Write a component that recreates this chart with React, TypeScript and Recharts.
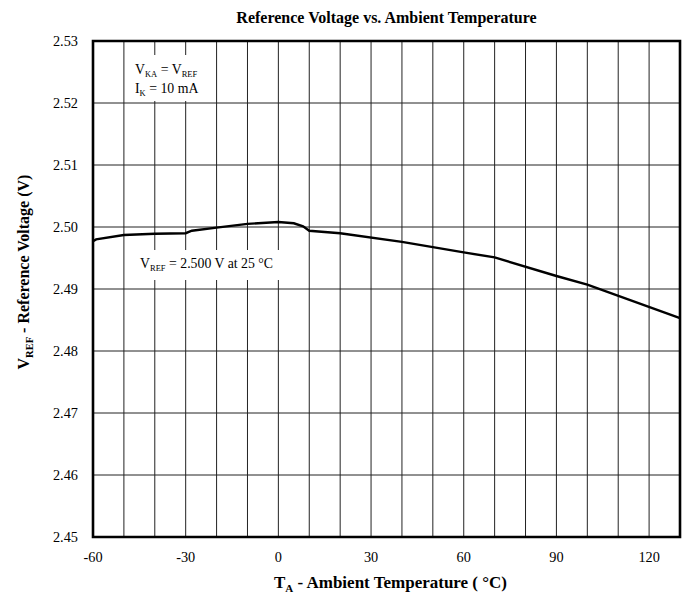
import React from "react";
import {
  CartesianGrid,
  Line,
  LineChart,
  ReferenceArea,
  XAxis,
  YAxis,
} from "recharts";

// values
const temps = [-60, -59, -50, -40, -30, -28, -20, -10, 0, 5, 8, 10, 20, 40, 60, 70, 90, 100, 130];
const vref = [
  2.4977, 2.498, 2.4987, 2.4989, 2.499, 2.4994, 2.4999, 2.5005, 2.5008, 2.5006,
  2.5001, 2.4994, 2.499, 2.4976, 2.4959, 2.4951, 2.4921, 2.4907, 2.4853,
];
const xTicks = [-60, -50, -40, -30, -20, -10, 0, 10, 20, 30, 40, 50, 60, 70, 80, 90, 100, 110, 120, 130];
const yTicks = [2.45, 2.46, 2.47, 2.48, 2.49, 2.5, 2.51, 2.52, 2.53];

const data = temps.map((t, i) => ({ t, v: vref[i] }));

const serif = "'Liberation Serif', 'Times New Roman', serif";
const tickStyle = { fontSize: 14.3, fill: "#000", fontFamily: serif };

const Sub: React.FC<{ children: React.ReactNode; size?: number; drop?: number }> = ({
  children,
  size = 8.5,
  drop = 3,
}) => (
  <span style={{ fontSize: size, position: "relative", top: drop }}>{children}</span>
);

export default function App() {
  return (
    <div
      style={{
        position: "absolute",
        left: 0,
        top: 0,
        width: 691,
        height: 605,
        background: "#fff",
        fontFamily: serif,
        color: "#000",
      }}
    >
      <LineChart
        width={691}
        height={605}
        data={data}
        margin={{ top: 41, right: 11, bottom: 0, left: 0 }}
      >
        <CartesianGrid stroke="#222" strokeWidth={1} />
        <XAxis
          dataKey="t"
          type="number"
          domain={[-60, 130]}
          ticks={xTicks}
          tickFormatter={(v: number) => (Math.abs(v) % 30 === 0 ? String(v) : "")}
          tick={tickStyle}
          tickLine={false}
          axisLine={false}
          tickSize={0}
          tickMargin={15}
          height={68}
          interval={0}
        />
        <YAxis
          type="number"
          domain={[2.45, 2.53]}
          ticks={yTicks}
          tickFormatter={(v: number) => v.toFixed(2)}
          tick={tickStyle}
          tickLine={false}
          axisLine={false}
          tickSize={0}
          tickMargin={15}
          width={93}
          interval={0}
        />
        <Line
          type="linear"
          dataKey="v"
          stroke="#000"
          strokeWidth={2.4}
          dot={false}
          isAnimationActive={false}
        />
        <ReferenceArea
          x1={-60}
          x2={130}
          y1={2.45}
          y2={2.53}
          fill="none"
          fillOpacity={0}
          stroke="#000"
          strokeWidth={2.6}
          ifOverflow="visible"
        />
      </LineChart>

      {/* title */}
      <div
        style={{
          position: "absolute",
          left: 93,
          width: 587,
          top: 8,
          textAlign: "center",
          fontWeight: "bold",
          fontSize: 16,
          lineHeight: "20px",
        }}
      >
        Reference Voltage vs. Ambient Temperature
      </div>

      {/* annotation boxes */}
      <div
        style={{
          position: "absolute",
          left: 129,
          top: 55,
          width: 81,
          height: 46,
          background: "#fff",
          fontSize: 13.8,
          lineHeight: "17px",
          paddingTop: 6,
          paddingLeft: 6,
          boxSizing: "border-box",
          whiteSpace: "nowrap",
        }}
      >
        <div>
          V<Sub>KA</Sub> = V<Sub>REF</Sub>
        </div>
        <div>
          I<Sub>K</Sub> = 10 mA
        </div>
      </div>
      <div
        style={{
          position: "absolute",
          left: 136,
          top: 250,
          width: 164,
          height: 30,
          background: "#fff",
          fontSize: 13.8,
          lineHeight: "17px",
          paddingTop: 5,
          paddingLeft: 4,
          boxSizing: "border-box",
          whiteSpace: "nowrap",
        }}
      >
        V<Sub>REF</Sub> = 2.500 V at 25 °C
      </div>

      {/* x axis label */}
      <div
        style={{
          position: "absolute",
          left: 97,
          width: 587,
          top: 573,
          textAlign: "center",
          fontWeight: "bold",
          fontSize: 17,
          lineHeight: "20px",
          whiteSpace: "nowrap",
        }}
      >
        T<Sub size={11} drop={4}>A</Sub> - Ambient Temperature ( °C)
      </div>

      {/* y axis label */}
      <div
        style={{
          position: "absolute",
          left: 25 - 200,
          top: 271 - 10,
          width: 400,
          textAlign: "center",
          fontWeight: "bold",
          fontSize: 16,
          lineHeight: "20px",
          whiteSpace: "nowrap",
          transform: "rotate(-90deg)",
          transformOrigin: "50% 50%",
        }}
      >
        V<Sub size={10.5} drop={4}>REF</Sub> - Reference Voltage (V)
      </div>
    </div>
  );
}
